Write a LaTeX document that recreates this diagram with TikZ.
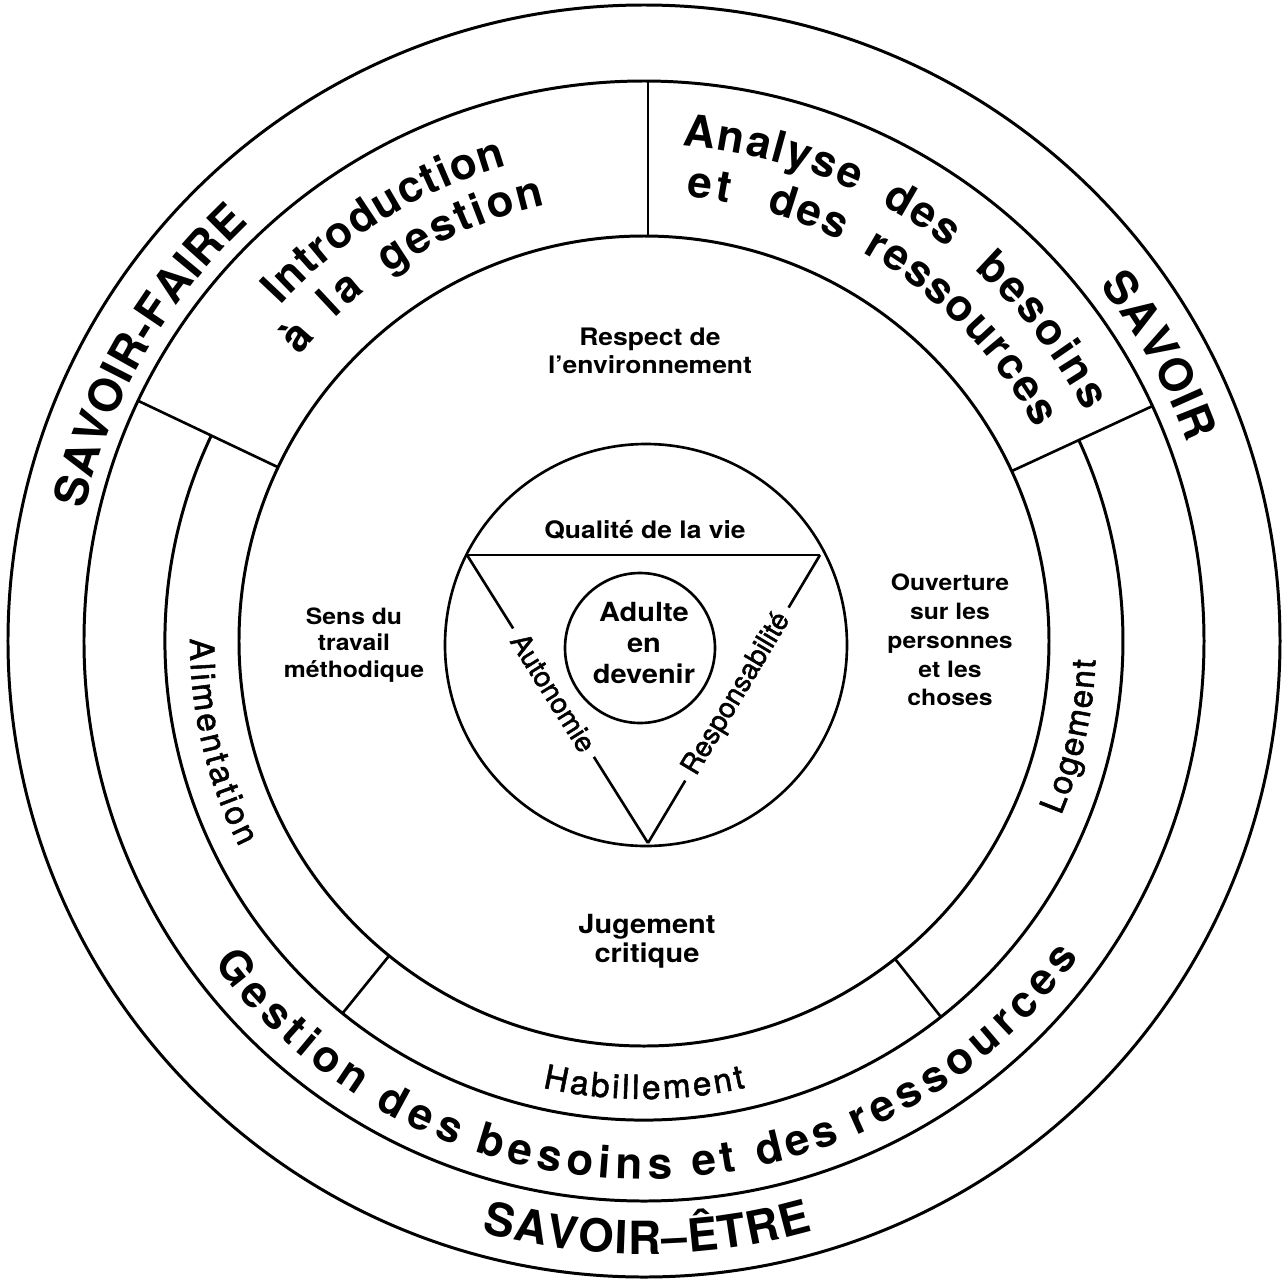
\documentclass[tikz,border=0pt]{standalone}
\usepackage{fontspec}
\setmainfont{TeX Gyre Heros}
\newfontfamily\labfont[FakeStretch=1.1]{TeX Gyre Heros}
\newfontfamily\medfont[FakeBold=1.6]{TeX Gyre Heros}
\usetikzlibrary{decorations.text}
\newcommand\RingBig{\bfseries\fontsize{26}{30}\selectfont}
\newcommand\RingMid{\bfseries\fontsize{25}{28}\selectfont}
\newcommand\RingGest{\bfseries\fontsize{25}{28}\selectfont}
\newcommand\RingSmall{\medfont\fontsize{19}{22}\selectfont}
\newcommand\ArcText[5]{\path[decorate,decoration={text along path,text={|#1|#2},text align={fit to path}}] (#3:#5) arc[start angle=#3,end angle=#4,radius=#5];}
\begin{document}
\begin{tikzpicture}[x=0.02cm,y=0.02cm,
  ring/.style={line width=1.7pt},
  sepline/.style={line width=1.5pt},
  tri/.style={line width=1.5pt},
  lab/.style={align=center, inner sep=0pt},
  edgelab/.style={font=\medfont\fontsize{16}{19}\selectfont, sloped, fill=white, inner xsep=5pt, inner ysep=1pt}]
\useasboundingbox (-644,-638) rectangle (640,641);
\coordinate (O) at (0,0);
% rings
\draw[ring] (O) circle[radius=636];
\draw[ring] (O) circle[radius=560];
\draw[ring] (O) circle[radius=405];
\draw[ring] (154.7:479) arc[start angle=154.7, end angle=384.8, radius=479];
% separators
\coordinate (s1a) at (4,405);       \coordinate (s1b) at (4,560);
\coordinate (s2a) at (154.6:405);   \coordinate (s2b) at (154.6:560);
\coordinate (s3a) at (24.8:405);    \coordinate (s3b) at (24.8:560);
\coordinate (s4a) at (231:405);     \coordinate (s4b) at (231:479);
\coordinate (s5a) at (308.3:405);   \coordinate (s5b) at (308.3:479);
\draw[sepline] (s1a) -- (s1b);
\draw[sepline] (s2a) -- (s2b);
\draw[sepline] (s3a) -- (s3b);
\draw[sepline] (s4a) -- (s4b);
\draw[sepline] (s5a) -- (s5b);
% middle and inner circles
\coordinate (mc) at (2,-4);
\coordinate (ic) at (-4,-7);
\draw[tri] (mc) circle[radius=201];
\draw[tri] (ic) circle[radius=75];
% triangle
\coordinate (v1) at (-177,86);
\coordinate (v2) at (176,86);
\coordinate (v3) at (4,-202);
\draw[tri] (v1) -- (v2);
\draw[tri] (v1) -- node[edgelab, pos=0.478] (auto) {Autonomie} (v3);
\draw[tri] (v3) -- node[edgelab, pos=0.517] (resp) {Responsabilité} (v2);
% straight labels
\node[lab, font=\labfont\bfseries\fontsize{13.7}{15.9}\selectfont] (respect) at (6,290.5) {Respect de\\l’environnement};
\node[lab, anchor=base, font=\labfont\bfseries\fontsize{13.7}{16}\selectfont] (qualite) at (1,103) {Qualité de la vie};
\node[lab, font=\labfont\bfseries\fontsize{12.8}{15.3}\selectfont] (sens) at (-290,-4) {Sens du\\travail\\méthodique};
\node[lab, font=\labfont\bfseries\fontsize{12.8}{16.4}\selectfont] (ouverture) at (306,1) {Ouverture\\sur les\\personnes\\et les\\choses};
\node[lab, font=\labfont\bfseries\fontsize{15}{16.5}\selectfont] (jugement) at (3,-300) {Jugement\\critique};
\node[lab, font=\labfont\bfseries\fontsize{15}{17.9}\selectfont] (adulte) at (0,-2) {Adulte\\en\\devenir};
% outer ring texts
\ArcText{\RingBig}{SAVOIR-FAIRE}{166.8}{133.4}{575}
\ArcText{\RingBig}{SAVOIR}{38}{20}{578}
\ArcText{\RingBig}{SAVOIR–ÊTRE}{254.6}{286}{613}
% upper left section
\ArcText{\RingMid}{Introduction}{137.3}{106}{495}
\path[decorate,decoration={text along path,text={|\RingMid|à},text align=center}] (141:447) arc[start angle=141,end angle=136.5,radius=447];
\ArcText{\RingMid}{la}{133.8}{128.5}{447}
\ArcText{\RingMid}{gestion}{124.8}{102.7}{447}
% upper right section
\ArcText{\RingMid}{Analyse}{85.6}{64.8}{497}
\ArcText{\RingMid}{des}{61.5}{52.3}{497}
\ArcText{\RingMid}{besoins}{48.4}{27.5}{497}
\ArcText{\RingMid}{et}{84.5}{79.0}{446}
\ArcText{\RingMid}{des}{74.1}{63.8}{446}
\ArcText{\RingMid}{ressources}{60.6}{28.5}{446}
% lower band
\ArcText{\RingGest}{Gestion}{216.8}{237.7}{538}
\ArcText{\RingGest}{des}{240.0}{249.6}{538}
\ArcText{\RingGest}{besoins}{251.6}{273.1}{538}
\ArcText{\RingGest}{et}{275.3}{280.0}{538}
\ArcText{\RingGest}{des}{282.4}{291.4}{538}
\ArcText{\RingGest}{ressources}{293.3}{324.0}{538}
% sections of lower ring
\ArcText{\RingSmall}{Alimentation}{179.7}{207}{454}
\ArcText{\RingSmall}{Habillement}{257.2}{282.8}{458}
\ArcText{\RingSmall}{Logement}{337.3}{357.6}{452}
\end{tikzpicture}
\end{document}
